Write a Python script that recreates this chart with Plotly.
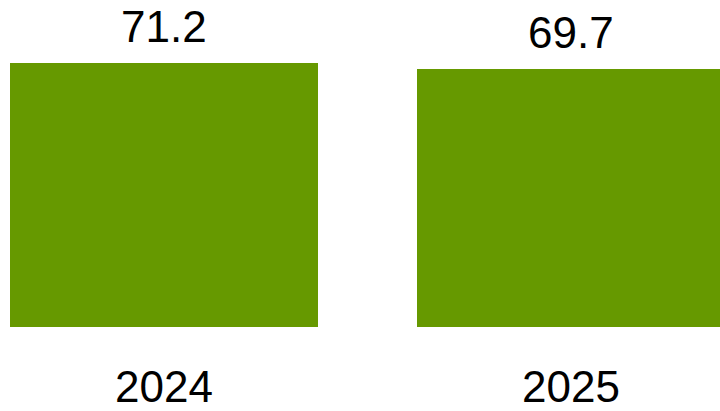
import plotly.graph_objects as go

categories = ["2024", "2025"]
values = [71.2, 69.7]
value_labels = ["71.2", "69.7"]

BAR_COLOR = "#669900"
FONT = "Liberation Sans, Arial, sans-serif"

W, H = 720, 411
bottom_px = 329
px_per_unit = (bottom_px - 69.3) / 69.7
ymax = bottom_px / px_per_unit

center0, center1 = 164.0, 571.0
unit = center1 - center0
x_lo = -center0 / unit
x_hi = 1 + (W - center1) / unit
bar_w = 308.5 / unit

fig = go.Figure()
fig.add_trace(go.Bar(
    x=[0, 1],
    y=values,
    width=bar_w,
    marker=dict(color=BAR_COLOR, line=dict(width=0)),
    hoverinfo="skip",
))

for i, (v, lab) in enumerate(zip(values, value_labels)):
    fig.add_annotation(
        x=i, y=v, text=lab, showarrow=False,
        xanchor="center", yanchor="bottom", yshift=12,
        height=46, valign="middle",
        font=dict(family=FONT, size=44, color="#000000"),
    )

fig.update_layout(
    width=W, height=H,
    margin=dict(l=0, r=0, t=0, b=H - bottom_px),
    paper_bgcolor="white", plot_bgcolor="white",
    showlegend=False,
    bargap=0,
    font=dict(family=FONT, size=44, color="#000000"),
)
fig.update_xaxes(
    range=[x_lo, x_hi],
    tickmode="array", tickvals=[0, 1], ticktext=categories,
    showgrid=False, zeroline=False, showline=False, ticks="",
    tickfont=dict(family=FONT, size=44, color="#000000"),
    ticklabelstandoff=30,
)
fig.update_yaxes(
    range=[0, ymax], visible=False, showgrid=False, zeroline=False,
)

fig.write_html("out.html")
